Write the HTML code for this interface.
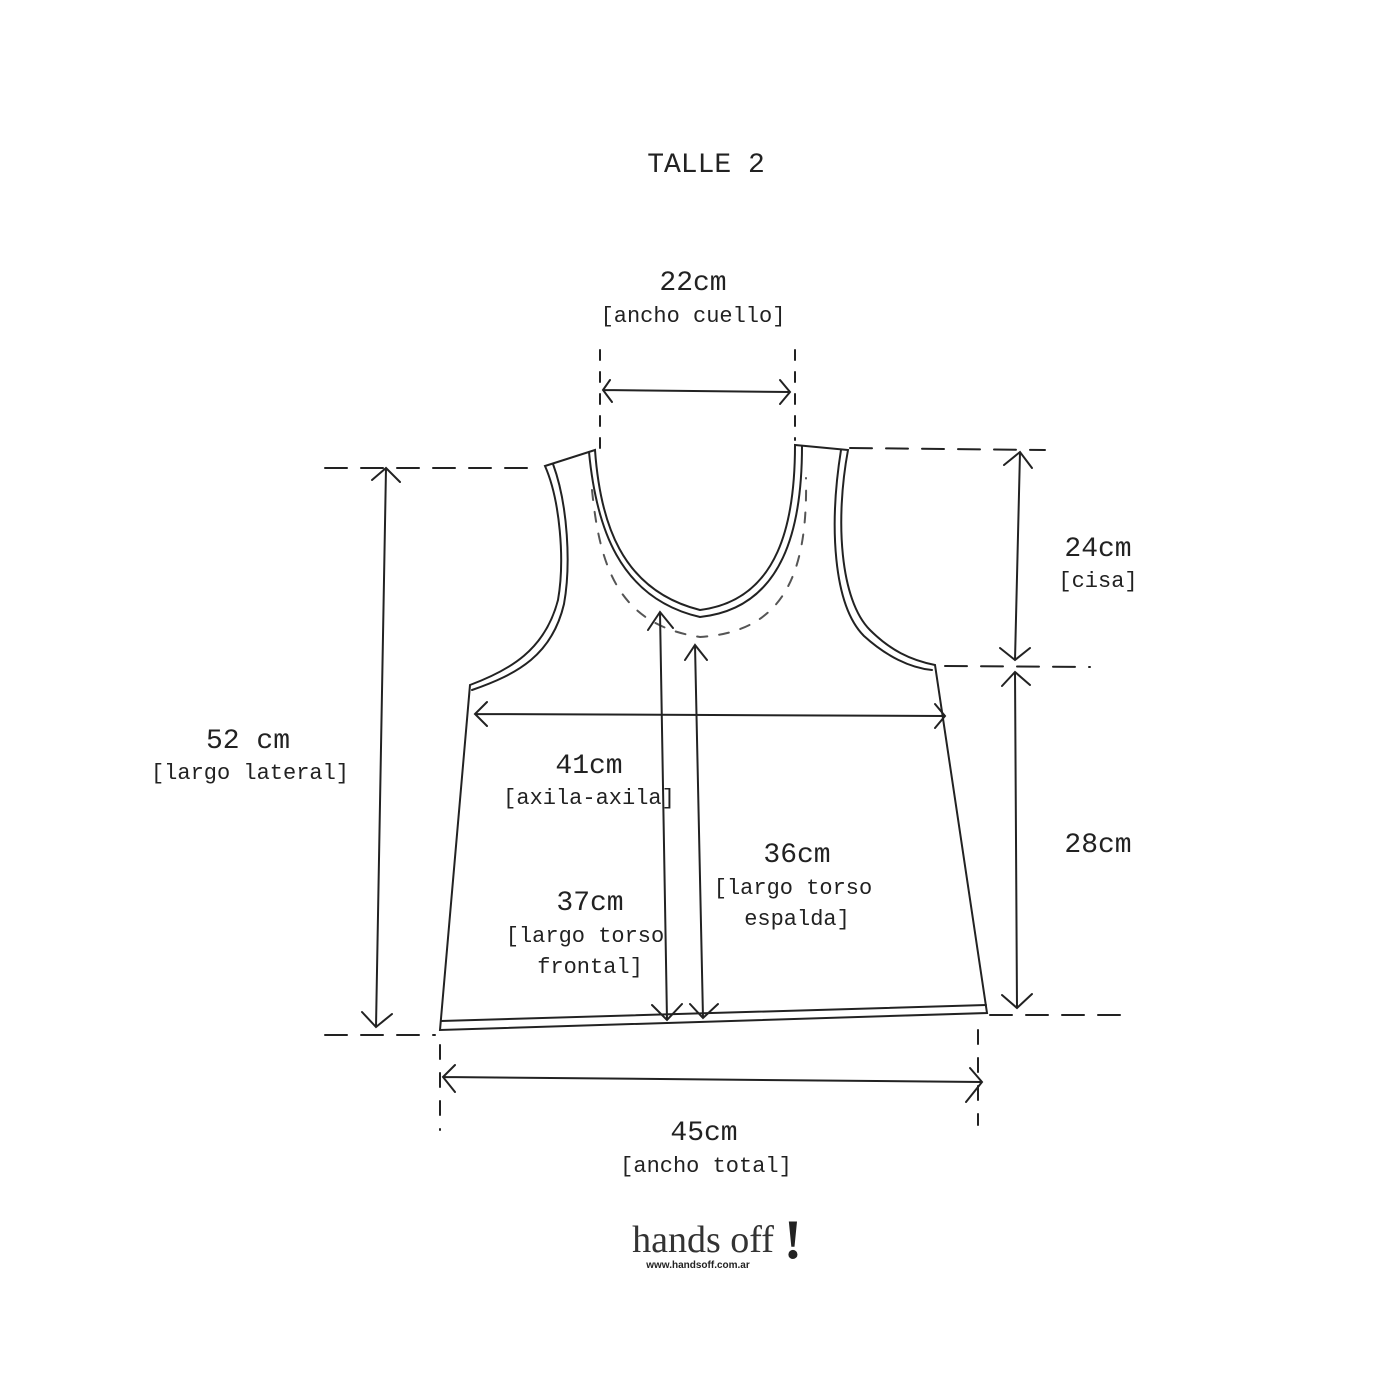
<!DOCTYPE html>
<html><head><meta charset="utf-8"><style>
body{margin:0;background:#fff}
svg{display:block}
text{font-family:"Liberation Mono",monospace;fill:#222;text-anchor:middle}
.b{font-size:28px}.s{font-size:22px}
</style></head><body>
<svg width="1400" height="1400" viewBox="0 0 1400 1400" xmlns="http://www.w3.org/2000/svg">
<g fill="none" stroke="#222" stroke-width="2" stroke-linecap="round">
<!-- garment outer -->
<path d="M545,466 L595,450 C600,520 620,590 700,610 C780,600 795,520 795,445 L848,450 C835,520 840,600 870,630 C890,650 910,660 935,665 L987,1013 L440,1030 L470,685 C510,670 545,650 558,600 C565,560 560,500 545,466 Z"/>
<!-- inner offset lines -->
<path d="M589,452 C596,525 618,598 700,617 C785,608 802,525 802,446"/>
<path d="M553,464 C568,505 571,565 564,604 C552,655 518,674 472,690"/>
<path d="M841,450 C829,525 833,605 864,636 C886,656 910,668 932,670"/>
<path d="M441,1021 L986,1005"/>
<!-- dashed neck -->
<path d="M592,490 C600,570 620,625 700,637 C780,632 808,580 806,478" stroke-dasharray="10,12" stroke="#555"/>
<!-- 22cm -->
<path d="M600,350 V450 M795,350 V440" stroke-dasharray="10,12"/>
<path d="M603,390 L790,392 M610,380 L603,390 L612,402 M780,380 L790,392 L780,404"/>
<!-- 52cm -->
<path d="M325,468 H540 M325,1035 H435" stroke-dasharray="22,14"/>
<path d="M386,468 L376,1027 M372,480 L386,468 L400,482 M362,1012 L376,1027 L392,1014"/>
<!-- 24 / 28 -->
<path d="M850,448 L1045,450 M945,666 L1090,667 M990,1015 L1120,1015" stroke-dasharray="22,14"/>
<path d="M1020,452 L1015,660 M1004,465 L1020,452 L1032,468 M1000,648 L1015,660 L1030,648"/>
<path d="M1015,672 L1017,1008 M1002,686 L1015,672 L1030,685 M1002,995 L1017,1008 L1032,994"/>
<!-- 41cm -->
<path d="M475,714 L945,716 M487,702 L475,714 L487,726 M935,704 L945,716 L935,728"/>
<!-- 37 / 36 -->
<path d="M660,612 L667,1020 M648,630 L660,612 L673,628 M652,1005 L667,1020 L682,1004"/>
<path d="M695,645 L703,1018 M685,660 L695,645 L707,660 M690,1004 L703,1018 L718,1004"/>
<!-- 45cm -->
<path d="M440,1045 V1130 M978,1030 V1125" stroke-dasharray="14,14"/>
<path d="M443,1077 L982,1082 M455,1065 L443,1077 L455,1092 M970,1068 L982,1082 L966,1102"/>
</g>
<text class="b" x="706" y="172">TALLE 2</text>
<text class="b" x="693" y="290">22cm</text>
<text class="s" x="693" y="322">[ancho cuello]</text>
<text class="b" x="248" y="748">52 cm</text>
<text class="s" x="250" y="779">[largo lateral]</text>
<text class="b" x="1098" y="556">24cm</text>
<text class="s" x="1098" y="587">[cisa]</text>
<text class="b" x="1098" y="852">28cm</text>
<text class="b" x="589" y="773">41cm</text>
<text class="s" x="589" y="804">[axila-axila]</text>
<text class="b" x="797" y="862">36cm</text>
<text class="s" x="793" y="894">[largo torso</text>
<text class="s" x="797" y="925">espalda]</text>
<text class="b" x="590" y="910">37cm</text>
<text class="s" x="585" y="942">[largo torso</text>
<text class="s" x="590" y="973">frontal]</text>
<text class="b" x="704" y="1140">45cm</text>
<text class="s" x="706" y="1172">[ancho total]</text>
<text x="703" y="1252" style="font-family:'Liberation Serif',serif;font-size:38px;fill:#333">hands off</text>
<text x="793" y="1258" style="font-family:'Liberation Serif',serif;font-size:56px;font-weight:bold;fill:#222">!</text>
<text x="698" y="1268" style="font-family:'Liberation Sans',sans-serif;font-size:10px;font-weight:bold;fill:#222">www.handsoff.com.ar</text>
</svg>
</body></html>
